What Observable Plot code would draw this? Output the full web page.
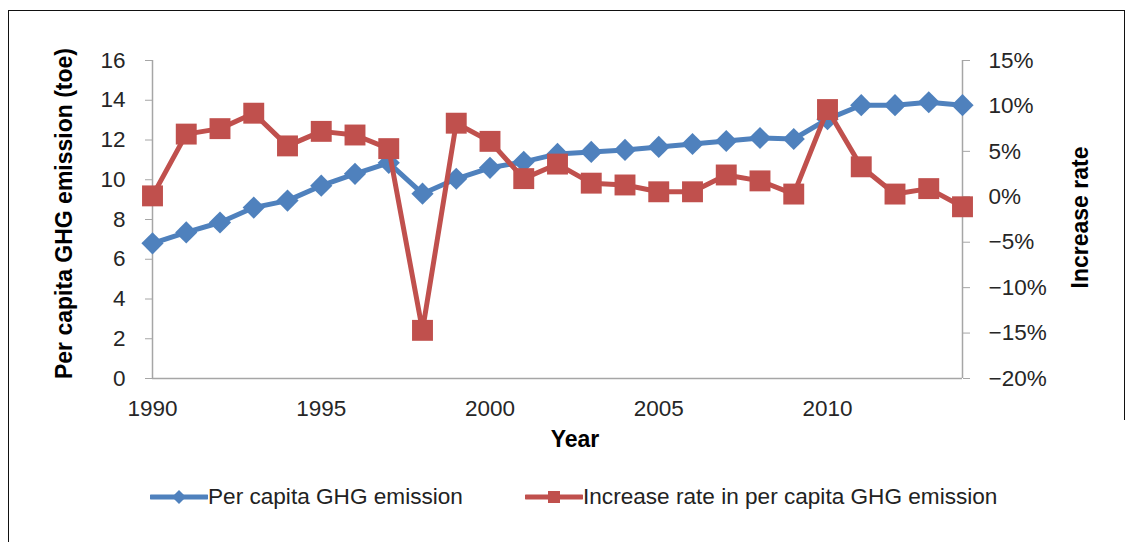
<!DOCTYPE html>
<html>
<head>
<meta charset="utf-8">
<script src="https://cdn.jsdelivr.net/npm/d3@7"></script>
<script src="https://cdn.jsdelivr.net/npm/@observablehq/plot@0.6"></script>
<style>
  body { margin: 0; background: #fff; font-family: "Liberation Sans", Arial, sans-serif; }
  #wrap { position: relative; width: 1132px; height: 542px; overflow: hidden; }
  #chart { position: absolute; left: 0; top: 0; }
  .frameTop { position: absolute; left: 8px; top: 10px; width: 1116px; height: 0; border-top: 1.5px solid #111; }
  .frameLeft { position: absolute; left: 8px; top: 10px; width: 0; height: 540px; border-left: 1.5px solid #111; }
  .frameRight { position: absolute; left: 1124px; top: 10px; width: 0; height: 410px; border-left: 1.5px solid #111; }
  .title { position: absolute; font-weight: bold; font-size: 23px; line-height: 23px; color: #000; text-align: center; white-space: nowrap; }
  .legend { position: absolute; top: 486px; left: 0; font-size: 22.6px; line-height: 22px; color: #222; }
  .item { position: absolute; top: 0; white-space: nowrap; }
  .item svg { position: absolute; top: 0; }
</style>
</head>
<body>
<div id="wrap">
  <div class="frameTop"></div>
  <div class="frameLeft"></div>
  <div class="frameRight"></div>
  <div id="chart"></div>
  <div class="title" style="left:-136px; top:202px; width:400px; transform:rotate(-90deg);">Per capita GHG emission (toe)</div>
  <div class="title" style="left:880px; top:206px; width:400px; transform:rotate(-90deg);">Increase rate</div>
  <div class="title" style="left:475px; top:428px; width:200px;">Year</div>
  <div class="legend" id="legend"></div>
</div>
<script>
// ---- data ----
const years = [1990, 1991, 1992, 1993, 1994, 1995, 1996, 1997, 1998, 1999, 2000, 2001, 2002,
               2003, 2004, 2005, 2006, 2007, 2008, 2009, 2010, 2011, 2012, 2013, 2014];
const perCapitaGHG = [6.8, 7.35, 7.85, 8.6, 8.95, 9.7, 10.3, 10.85, 9.3, 10.05, 10.6, 10.9, 11.3,
                      11.4, 11.5, 11.65, 11.8, 11.95, 12.1, 12.05, 13.05, 13.75, 13.75, 13.9, 13.75];
const increaseRatePct = [0.1, 6.9, 7.5, 9.2, 5.6, 7.2, 6.8, 5.3, -14.7, 8.1, 6.1, 2.0, 3.6,
                         1.5, 1.3, 0.55, 0.55, 2.4, 1.75, 0.3, 9.6, 3.3, 0.3, 0.9, -1.1];
const leftTicks = [0, 2, 4, 6, 8, 10, 12, 14, 16];
const rightTicks = [-20, -15, -10, -5, 0, 5, 10, 15];
const xTicks = [1990, 1995, 2000, 2005, 2010];
const seriesNames = ["Per capita GHG emission", "Increase rate in per capita GHG emission"];

// ---- styles ----
const blue = "#4f81bd";
const red = "#c0504d";
const axisGrey = "#a6a6a6";
const tickText = "#262626";

// right axis (percent) mapped onto the left axis (toe) domain
const leftMax = 16, rMin = -20, rMax = 15;
const toLeft = p => (p - rMin) * leftMax / (rMax - rMin);

const blueRows = years.map((year, i) => ({year, value: perCapitaGHG[i]}));
const redRows = years.map((year, i) => ({year, value: toLeft(increaseRatePct[i])}));

const fmtPct = p => (p < 0 ? "\u2212" + Math.abs(p) : String(p)) + "%";

const chart = Plot.plot({
  width: 1132,
  height: 460,
  marginLeft: 152,
  marginRight: 170,
  marginTop: 60,
  marginBottom: 82,
  style: { fontFamily: "'Liberation Sans', Arial, sans-serif", fontSize: "22.5px", color: tickText, background: "transparent", overflow: "visible" },
  x: { domain: [years[0], years[years.length - 1]] },
  y: { domain: [0, leftMax] },
  marks: [
    Plot.ruleX([years[0]], { y1: 0, y2: leftMax, stroke: axisGrey, strokeWidth: 1.5 }),
    Plot.ruleX([years[years.length - 1]], { y1: 0, y2: leftMax, stroke: axisGrey, strokeWidth: 1.5 }),
    Plot.ruleY([0], { stroke: axisGrey, strokeWidth: 1.5 }),
    Plot.axisY({ ticks: leftTicks, anchor: "left", tickSize: 7, tickPadding: 20, stroke: axisGrey, fill: tickText, tickFormat: d => String(d), label: null }),
    Plot.axisY(rightTicks.map(toLeft), { anchor: "right", tickSize: 7, tickPadding: 19, stroke: axisGrey, fill: tickText,
      tickFormat: (d, i) => fmtPct(rightTicks[i]), label: null }),
    Plot.axisX({ ticks: xTicks, anchor: "bottom", tickSize: 0, tickPadding: 22, fill: tickText, tickFormat: d => String(d), label: null }),
    Plot.line(blueRows, { x: "year", y: "value", stroke: blue, strokeWidth: 5, strokeLinejoin: "round" }),
    Plot.dot(blueRows, { x: "year", y: "value", symbol: "diamond2", r: 10, fill: blue, stroke: "none" }),
    Plot.line(redRows, { x: "year", y: "value", stroke: red, strokeWidth: 5, strokeLinejoin: "round" }),
    Plot.dot(redRows, { x: "year", y: "value", symbol: "square", r: 11.8, fill: red, stroke: "none" })
  ]
});
document.getElementById("chart").appendChild(chart);

// ---- legend ----
const legend = document.getElementById("legend");
const items = [
  { name: seriesNames[0], color: blue, marker: "diamond", left: 150 },
  { name: seriesNames[1], color: red, marker: "square", left: 525 }
];
items.forEach(it => {
  const div = document.createElement("div");
  div.className = "item";
  div.style.left = it.left + "px";
  const ns = "http://www.w3.org/2000/svg";
  const svg = document.createElementNS(ns, "svg");
  svg.setAttribute("width", 58); svg.setAttribute("height", 22);
  const ln = document.createElementNS(ns, "line");
  ln.setAttribute("x1", 1); ln.setAttribute("x2", 57); ln.setAttribute("y1", 11); ln.setAttribute("y2", 11);
  ln.setAttribute("stroke", it.color); ln.setAttribute("stroke-width", 5); ln.setAttribute("stroke-linecap", "round");
  svg.appendChild(ln);
  const mk = document.createElementNS(ns, "path");
  mk.setAttribute("d", it.marker === "diamond" ? "M29,4L36,11L29,18L22,11Z" : "M23,5H35V17H23Z");
  mk.setAttribute("fill", it.color);
  svg.appendChild(mk);
  div.appendChild(svg);
  const span = document.createElement("span");
  span.textContent = it.name;
  span.style.marginLeft = "58px";
  div.appendChild(span);
  legend.appendChild(div);
});
</script>
</body>
</html>
